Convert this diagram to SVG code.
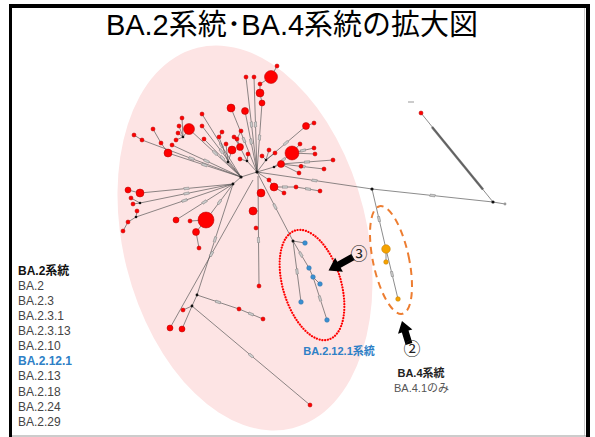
<svg xmlns="http://www.w3.org/2000/svg" width="595" height="437" viewBox="0 0 595 437">
<style>
.e{stroke:#555;stroke-width:0.8;fill:none;stroke-opacity:0.85}
.t{marker-mid:url(#tick)}
.r{fill:#ff0000;stroke:#b00000;stroke-width:0.5}
.b{fill:#3a8fd0;stroke:#2a6fa8;stroke-width:0.5}
.o{fill:#f5a300;stroke:#c07800;stroke-width:0.5}
.k{fill:#111}
.lg{font-family:"Liberation Sans","Noto Sans CJK JP",sans-serif;font-size:12px;fill:#444}
.lgh{font-weight:bold;fill:#111}
.lgb{font-weight:bold;fill:#2e80c6}
.lb{font-family:"Liberation Sans","Noto Sans CJK JP",sans-serif;font-size:11px}
.cn{font-family:"Noto Sans CJK JP",sans-serif;font-size:17px;fill:#222;text-anchor:middle}
</style>
<defs>
<marker id="tick" markerUnits="userSpaceOnUse" markerWidth="6" markerHeight="4" refX="2.2" refY="1" orient="auto" viewBox="0 0 4.4 2">
<rect x="0.2" y="0.2" width="4" height="1.6" fill="#ccc" stroke="#777" stroke-width="0.35"/>
</marker>
</defs>
<rect x="0" y="0" width="595" height="437" fill="#fff"/>
<g id="frame">
<line x1="10.5" y1="4" x2="10.5" y2="437" stroke="#000" stroke-width="3"/>
<line x1="9" y1="6" x2="590" y2="6" stroke="#000" stroke-width="4"/>
<line x1="588" y1="4" x2="588" y2="437" stroke="#000" stroke-width="4"/>
<line x1="584.5" y1="8" x2="584.5" y2="436" stroke="#ccc" stroke-width="1"/>
<line x1="12" y1="436" x2="586" y2="436" stroke="#999" stroke-width="1.2"/>
</g>
<g id="ba2-region">
<ellipse cx="245" cy="238" rx="122" ry="196" transform="rotate(-14 245 238)" fill="#fde4e4"/>
</g>
<text id="title" x="292" y="35" text-anchor="middle" font-family="Liberation Sans,Noto Sans CJK JP,sans-serif" font-size="29" fill="#000">BA.2系統･BA.4系統の拡大図</text>
<g id="connectors">
<path class="e" d="M241 177L257 172"/>
<path class="e" d="M241 177L233 184"/>
<path class="e t" d="M246 77L251.5 124.5L257 172"/>
<path class="e t" d="M254 77L255.5 124.5L257 172"/>
<path class="e" d="M277 66L271 77L260 84L260 93L262 103"/>
<path class="e t" d="M262 103L259.5 137.5L257 172"/>
<path class="e t" d="M231 108L244 140L257 172"/>
<path class="e t" d="M245 111L251 141.5L257 172"/>
<path class="e t" d="M202 114L221.5 145.5L241 177"/>
<path class="e" d="M182 118L183 137M179 126L183 137M178 133L183 137M176 140L183 137L189 129"/>
<path class="e t" d="M189 129L215 153L241 177"/>
<path class="e t" d="M202 126L221.5 151.5L241 177"/>
<path class="e t" d="M204 139L222.5 158L241 177"/>
<path class="e t" d="M172 145L206.5 161L241 177"/>
<path class="e" d="M134 135L142 140"/>
<path class="e t" d="M142 140L191.5 158.5L241 177"/>
<path class="e" d="M153 129L161 143L168 153"/>
<path class="e t" d="M168 153L204.5 165L241 177"/>
<path class="e" d="M222 132L219 137L228 162M226 144L228 162M232 150L228 162L241 177"/>
<path class="e" d="M241 131L237 139L240 147M234 137L240 147L247 161M240 159L247 161M248 154L247 161L257 172"/>
<path class="e" d="M314 123L306 126"/>
<path class="e t" d="M306 126L286 143L266 160"/>
<path class="e" d="M266 160L257 172M262 156L266 160M269 150L266 160M275 153L266 160"/>
<path class="e t" d="M292 153L283 160L274 167"/>
<path class="e" d="M274 167L257 172M281 164L274 167M299 173L281 164"/>
<path class="e t" d="M292 153L303 150.5L314 148"/>
<path class="e" d="M292 153L300 144M292 153L315 154"/>
<path class="e t" d="M281 164L302.5 166.5L324 169"/>
<path class="e t" d="M281 164L307 162L333 160"/>
<path class="e" d="M257 172L269 180L274 187L284 193"/>
<path class="e t" d="M274 187L285 187L296 187"/>
<path class="e t" d="M296 187L308 189L320 191"/>
<path class="e t" d="M257 172L314.5 180.5L372 189"/>
<path class="e t" d="M372 189L432.5 195.5L493 202"/>
<path class="e" d="M493 202L505 204"/>
<path class="e" d="M421 113L493 202"/>
<line x1="432" y1="127" x2="483" y2="189.5" stroke="#555" stroke-width="2.4" stroke-opacity="0.85"/>
<line x1="408" y1="102" x2="414" y2="102" stroke="#bbb" stroke-width="1.5"/>
<path class="e t" d="M372 189L379 219L386 249"/>
<path class="e t" d="M386 249L392 274L398 299"/>
<path class="e" d="M386 249L386 262"/>
<path class="e t" d="M258 176L258.5 240L259 286"/>
<path class="e" d="M253 211L258 211M261 193L258 193"/>
<path class="e t" d="M257 172L275 206.5L293 241"/>
<path class="e" d="M293 241L305 243"/>
<path class="e t" d="M293 241L297 271.5L301 302"/>
<path class="e t" d="M293 241L301 254.5L309 268"/>
<path class="e" d="M309 268L313 277L320 284"/>
<path class="e t" d="M313 277L320 298.5L327 320"/>
<path class="e" d="M128 190L140 193"/>
<path class="e t" d="M140 193L186.5 188.5L233 184"/>
<path class="e" d="M131 198L140 203M133 204L140 203"/>
<path class="e t" d="M140 203L186.5 193.5L233 184"/>
<path class="e" d="M137 211L136 217M123 231L128 222L136 217"/>
<path class="e t" d="M136 217L184.5 200.5L233 184"/>
<path class="e t" d="M176 220L204.5 202L233 184"/>
<path class="e t" d="M206 220L219.5 202L233 184"/>
<path class="e" d="M190 221L206 220M199 248L196 232L206 220"/>
<path class="e t" d="M233 184L215 239.5L197 295"/>
<path class="e" d="M197 295L192 306L183 310M192 306L182 329"/>
<path class="e t" d="M192 306L251 355.5L310 405"/>
<path class="e t" d="M197 295L218 302L239 309"/>
<path class="e t" d="M239 309L251 314L263 319"/>
<path class="e t" d="M253 180L211.5 254L170 328"/>
</g>
<g id="junctions">
<circle class="k" cx="257" cy="172" r="1.6"/>
<circle class="k" cx="241" cy="177" r="1.6"/>
<circle class="k" cx="233" cy="184" r="1.4"/>
<circle class="k" cx="183" cy="137" r="1.3"/>
<circle class="k" cx="228" cy="162" r="1.3"/>
<circle class="k" cx="247" cy="161" r="1.3"/>
<circle class="k" cx="266" cy="160" r="1.3"/>
<circle class="k" cx="274" cy="167" r="1.3"/>
<circle class="k" cx="140" cy="203" r="1.3"/>
<circle class="k" cx="136" cy="217" r="1.3"/>
<circle class="k" cx="197" cy="295" r="1.4"/>
<circle class="k" cx="192" cy="306" r="1.4"/>
<circle class="k" cx="293" cy="241" r="1.5"/>
<circle class="k" cx="372" cy="189" r="1.6"/>
<circle class="k" cx="493" cy="202" r="1.6"/>
<circle cx="505" cy="204" r="1.4" fill="#999"/>
</g>
<g id="ba2-nodes">
<circle class="r" cx="246" cy="77" r="2"/>
<circle class="r" cx="254" cy="77" r="2"/>
<circle class="r" cx="271" cy="77" r="6.5"/>
<circle class="r" cx="277" cy="66" r="2"/>
<circle class="r" cx="260" cy="84" r="2"/>
<circle class="r" cx="260" cy="93" r="4"/>
<circle class="r" cx="262" cy="103" r="3"/>
<circle class="r" cx="231" cy="108" r="4"/>
<circle class="r" cx="245" cy="111" r="3.5"/>
<circle class="r" cx="202" cy="114" r="2"/>
<circle class="r" cx="182" cy="118" r="2"/>
<circle class="r" cx="179" cy="126" r="2"/>
<circle class="r" cx="178" cy="133" r="2"/>
<circle class="r" cx="176" cy="140" r="2"/>
<circle class="r" cx="189" cy="129" r="5.5"/>
<circle class="r" cx="202" cy="126" r="2"/>
<circle class="r" cx="204" cy="139" r="2"/>
<circle class="r" cx="172" cy="145" r="2"/>
<circle class="r" cx="134" cy="135" r="2"/>
<circle class="r" cx="142" cy="140" r="2"/>
<circle class="r" cx="153" cy="129" r="2"/>
<circle class="r" cx="161" cy="143" r="2"/>
<circle class="r" cx="168" cy="153" r="4"/>
<circle class="r" cx="222" cy="132" r="2"/>
<circle class="r" cx="219" cy="137" r="2"/>
<circle class="r" cx="226" cy="144" r="2"/>
<circle class="r" cx="232" cy="150" r="4"/>
<circle class="r" cx="241" cy="131" r="2"/>
<circle class="r" cx="237" cy="139" r="2"/>
<circle class="r" cx="234" cy="137" r="2"/>
<circle class="r" cx="240" cy="147" r="3.5"/>
<circle class="r" cx="240" cy="159" r="2"/>
<circle class="r" cx="248" cy="154" r="2"/>
<circle class="r" cx="306" cy="126" r="3.5"/>
<circle class="r" cx="314" cy="123" r="2"/>
<circle class="r" cx="262" cy="156" r="2"/>
<circle class="r" cx="269" cy="150" r="2"/>
<circle class="r" cx="275" cy="153" r="2"/>
<circle class="r" cx="292" cy="153" r="7"/>
<circle class="r" cx="300" cy="144" r="2"/>
<circle class="r" cx="314" cy="148" r="2"/>
<circle class="r" cx="315" cy="154" r="2"/>
<circle class="r" cx="281" cy="164" r="3.5"/>
<circle class="r" cx="301" cy="166.3" r="2"/>
<circle class="r" cx="299" cy="173" r="2"/>
<circle class="r" cx="324" cy="169" r="2"/>
<circle class="r" cx="333" cy="160" r="2"/>
<circle class="r" cx="269" cy="180" r="2"/>
<circle class="r" cx="274" cy="187" r="4"/>
<circle class="r" cx="284" cy="193" r="2"/>
<circle class="r" cx="296" cy="187" r="2"/>
<circle class="r" cx="320" cy="191" r="2"/>
<circle class="r" cx="261" cy="193" r="4"/>
<circle class="r" cx="253" cy="211" r="4"/>
<circle class="r" cx="256" cy="228" r="2"/>
<circle class="r" cx="259" cy="286" r="2"/>
<circle class="r" cx="128" cy="190" r="3"/>
<circle class="r" cx="140" cy="193" r="4"/>
<circle class="r" cx="131" cy="198" r="2"/>
<circle class="r" cx="133" cy="204" r="2"/>
<circle class="r" cx="137" cy="211" r="2"/>
<circle class="r" cx="128" cy="222" r="2"/>
<circle class="r" cx="123" cy="231" r="2"/>
<circle class="r" cx="176" cy="220" r="3"/>
<circle class="r" cx="190" cy="221" r="2"/>
<circle class="r" cx="206" cy="220" r="8"/>
<circle class="r" cx="196" cy="232" r="3.5"/>
<circle class="r" cx="199" cy="248" r="2"/>
<circle class="r" cx="183" cy="310" r="2"/>
<circle class="r" cx="182" cy="329" r="3"/>
<circle class="r" cx="170" cy="328" r="3"/>
<circle class="r" cx="239" cy="309" r="2"/>
<circle class="r" cx="263" cy="319" r="2"/>
<circle class="r" cx="310" cy="405" r="2"/>
<circle class="r" cx="421" cy="113" r="2"/>
</g>
<g id="ba2121-nodes">
<circle class="b" cx="305" cy="243" r="2.3"/>
<circle class="b" cx="309" cy="268" r="2.3"/>
<circle class="b" cx="313" cy="277" r="2.3"/>
<circle class="b" cx="320" cy="284" r="2.3"/>
<circle class="b" cx="301" cy="302" r="2.3"/>
<circle class="b" cx="327" cy="320" r="2.3"/>
<ellipse cx="312" cy="285" rx="29" ry="57" transform="rotate(-17 312 285)" fill="none" stroke="#f00" stroke-width="2.2" stroke-dasharray="0.1 2.7" stroke-linecap="round"/>
</g>
<g id="ba4-nodes">
<circle class="o" cx="386" cy="249" r="4.3"/>
<circle class="o" cx="386" cy="262" r="2.3"/>
<circle class="o" cx="398" cy="299" r="2.3"/>
<ellipse cx="391" cy="260" rx="18" ry="55" transform="rotate(-12 391 260)" fill="none" stroke="#ed7d31" stroke-width="2" stroke-dasharray="7 5"/>
</g>
<g id="arrow3">
<polygon points="0,-3.5 16,-3.5 16,-8 28,0 16,8 16,3.5 0,3.5" fill="#000" transform="translate(353,257) rotate(151)"/>
<text class="cn" x="359" y="260">③</text>
</g>
<g id="arrow2">
<polygon points="0,-3.5 13,-3.5 13,-7.5 24,0 13,7.5 13,3.5 0,3.5" fill="#000" transform="translate(409,344) rotate(-107)"/>
<text class="cn" x="412" y="355">②</text>
</g>
<g id="labels">
<text class="lb" x="339" y="355" text-anchor="middle" font-weight="bold" fill="#2e80c6">BA.2.12.1系統</text>
<text class="lb" x="421" y="377" text-anchor="middle" font-weight="bold" fill="#222">BA.4系統</text>
<text class="lb" x="421.5" y="392" text-anchor="middle" fill="#555">BA.4.1のみ</text>
</g>
<g id="legend">
<text class="lg lgh" x="18" y="274.5">BA.2系統</text>
<text class="lg" x="18" y="289.6">BA.2</text>
<text class="lg" x="18" y="304.7">BA.2.3</text>
<text class="lg" x="18" y="319.9">BA.2.3.1</text>
<text class="lg" x="18" y="335">BA.2.3.13</text>
<text class="lg" x="18" y="350.1">BA.2.10</text>
<text class="lg lgb" x="18" y="365.2">BA.2.12.1</text>
<text class="lg" x="18" y="380.3">BA.2.13</text>
<text class="lg" x="18" y="395.5">BA.2.18</text>
<text class="lg" x="18" y="410.6">BA.2.24</text>
<text class="lg" x="18" y="425.7">BA.2.29</text>
</g>
</svg>
